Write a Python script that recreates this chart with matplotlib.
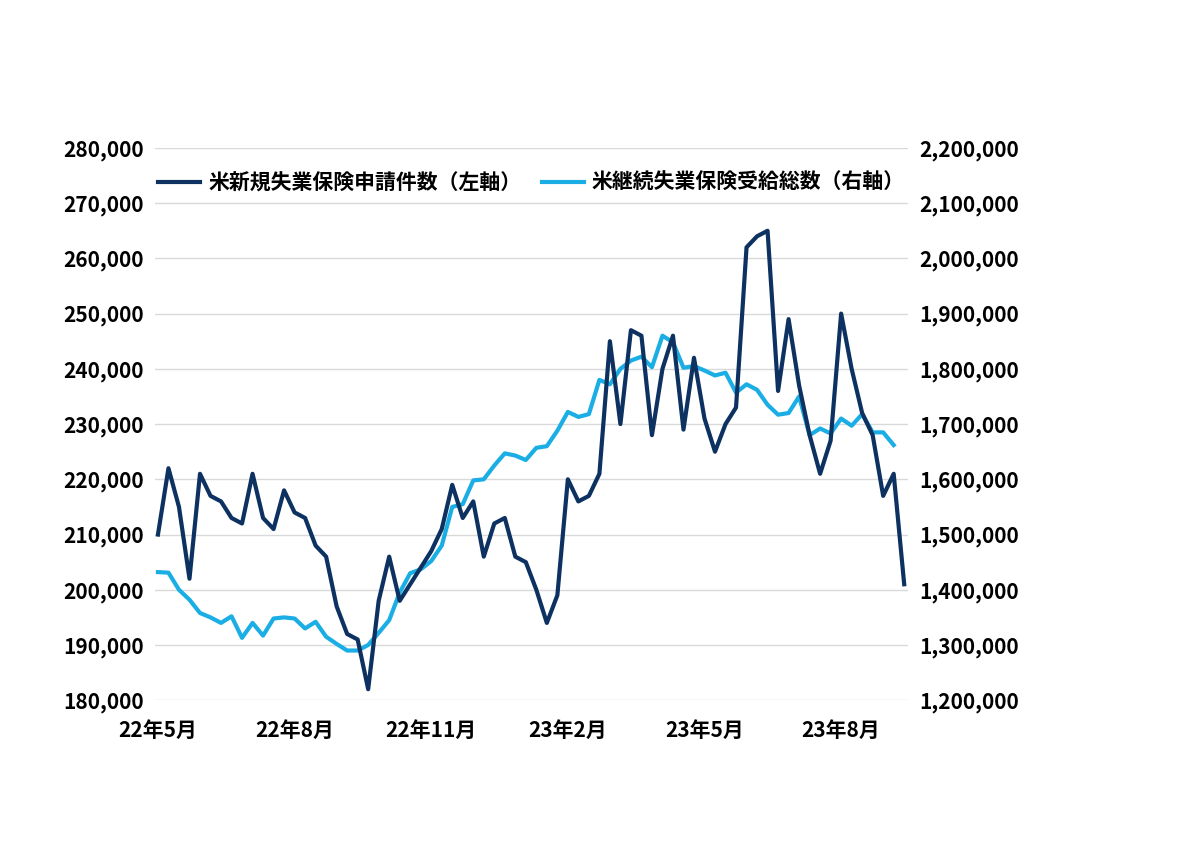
import matplotlib
matplotlib.use("Agg")
import matplotlib.pyplot as plt
from matplotlib.ticker import FuncFormatter

plt.rcParams['font.family'] = ['Noto Sans CJK JP', 'DejaVu Sans']

initial_claims = [210000, 222000, 215000, 202000, 221000, 217000, 216000, 213000, 212000, 221000,
                  213000, 211000, 218000, 214000, 213000, 208000, 206000, 197000, 192000, 191000,
                  182000, 198000, 206000, 198000, 201000, 204000, 207000, 211000, 219000, 213000,
                  216000, 206000, 212000, 213000, 206000, 205000, 200000, 194000, 199000, 220000,
                  216000, 217000, 221000, 245000, 230000, 247000, 246000, 228000, 240000, 246000,
                  229000, 242000, 231000, 225000, 230000, 233000, 262000, 264000, 265000, 236000,
                  249000, 237000, 228000, 221000, 227000, 250000, 240000, 232000, 228000, 217000,
                  221000, 201000]
continuing_claims = [1432000, 1431000, 1400000, 1382000, 1358000, 1350000, 1340000, 1352000, 1313000, 1340000,
                     1317000, 1348000, 1350000, 1348000, 1330000, 1342000, 1315000, 1302000, 1290000, 1290000,
                     1300000, 1322000, 1345000, 1395000, 1430000, 1437000, 1452000, 1480000, 1550000, 1555000,
                     1598000, 1600000, 1625000, 1647000, 1643000, 1635000, 1657000, 1660000, 1688000, 1722000,
                     1713000, 1718000, 1780000, 1772000, 1800000, 1815000, 1822000, 1803000, 1860000, 1848000,
                     1802000, 1805000, 1797000, 1788000, 1793000, 1757000, 1772000, 1762000, 1735000, 1717000,
                     1720000, 1750000, 1680000, 1692000, 1683000, 1710000, 1697000, 1718000, 1685000, 1685000,
                     1662000]
tick_pos = [0, 13, 26, 39, 52, 65]
tick_labels = ["22年5月", "22年8月", "22年11月", "23年2月", "23年5月", "23年8月"]

dark = "#0d3160"
light = "#1aaee5"

fig = plt.figure(figsize=(12, 8.55), dpi=100)
ax = fig.add_axes([0.129, 0.181, 0.628, 0.646])
ax2 = ax.twinx()

l1, = ax.plot(range(len(initial_claims)), initial_claims, color=dark, lw=3,
              label="米新規失業保険申請件数（左軸）", zorder=3)
l2, = ax2.plot(range(len(continuing_claims)), continuing_claims, color=light, lw=3,
               label="米継続失業保険受給総数（右軸）")
ax.set_zorder(ax2.get_zorder() + 1)
ax.patch.set_visible(False)

ax.set_ylim(180000, 280000)
ax2.set_ylim(1200000, 2200000)
ax.set_yticks(range(180000, 280001, 10000))
ax2.set_yticks(range(1200000, 2200001, 100000))
ax.set_xlim(-0.3, len(initial_claims) - 0.6)
ax.set_xticks(tick_pos)
ax.set_xticklabels(tick_labels)
fmt = FuncFormatter(lambda v, p: f"{int(v):,}")
ax.yaxis.set_major_formatter(fmt)
ax2.yaxis.set_major_formatter(fmt)
ax2.grid(axis="y", color="#d9d9d9", lw=1)
for a in (ax, ax2):
    for s in a.spines.values():
        s.set_visible(False)
    a.tick_params(length=0, labelsize=15, pad=8)
    for t in a.get_xticklabels() + a.get_yticklabels():
        t.set_fontweight("bold")
ax.tick_params(axis="x", pad=14)

ax.legend(handles=[l1, l2], loc="upper center", bbox_to_anchor=(0.5, 0.99), ncol=2,
          frameon=False, prop={"size": 15, "weight": "bold"}, handlelength=2.0,
          columnspacing=1.0, handletextpad=0.4)

fig.savefig("out.png")
